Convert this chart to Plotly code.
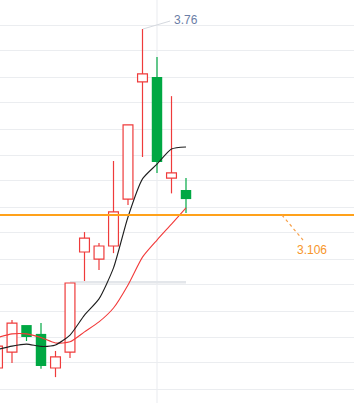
import plotly.graph_objects as go

# ---- data ----
idx = list(range(14))
open_ = [2.568, 2.624, 2.719, 2.688, 2.568, 2.624, 2.976, 2.951, 2.997, 3.162, 3.574, 3.591, 3.236, 3.194]
high = [2.660, 2.737, 2.719, 2.726, 2.628, 2.867, 3.046, 3.008, 3.296, 3.423, 3.760, 3.662, 3.524, 3.236]
low = [2.555, 2.586, 2.663, 2.565, 2.536, 2.603, 2.874, 2.913, 2.972, 3.141, 3.310, 3.254, 3.182, 3.113]
close = [2.645, 2.726, 2.677, 2.575, 2.607, 2.867, 3.025, 2.997, 3.117, 3.423, 3.602, 3.292, 3.254, 3.162]
ma_black = [2.633, 2.645, 2.652, 2.644, 2.649, 2.684, 2.754, 2.811, 2.920, 3.099, 3.233, 3.285, 3.338, 3.345]
ma_red = [2.675, 2.688, 2.688, 2.675, 2.656, 2.660, 2.695, 2.730, 2.779, 2.860, 2.958, 3.018, 3.074, 3.131]
level = 3.106
level_label = "3.106"
top_label = "3.76"
gray_level = 2.870
grid_prices = [3.774, 3.683, 3.591, 3.500, 3.408, 3.317, 3.226, 3.134, 3.043,
               2.951, 2.860, 2.768, 2.677, 2.586, 2.494]

RED = "#ef3b3b"
GREEN = "#00a843"
ORANGE = "#ffa11a"

fig = go.Figure()

# wicks (split around the body so hollow bodies stay clean)
for up_flag, color in ((True, RED), (False, GREEN)):
    wx, wy = [], []
    for i, o, h, l, c in zip(idx, open_, high, low, close):
        if (c >= o) != up_flag:
            continue
        top, bot = max(o, c), min(o, c)
        if h > top:
            wx += [i, i, None]
            wy += [h, top, None]
        if l < bot:
            wx += [i, i, None]
            wy += [bot, l, None]
    fig.add_trace(go.Scatter(x=wx, y=wy, mode="lines", line=dict(color=color, width=1.2),
                             showlegend=False, hoverinfo="skip"))

# bodies
up_i = [i for i in idx if close[i] >= open_[i]]
dn_i = [i for i in idx if close[i] < open_[i]]
fig.add_trace(go.Bar(
    x=up_i, base=[open_[i] for i in up_i], y=[close[i] - open_[i] for i in up_i],
    width=0.68, marker=dict(color="#ffffff", line=dict(color=RED, width=1.2)),
    showlegend=False, hoverinfo="skip"))
fig.add_trace(go.Bar(
    x=dn_i, base=[close[i] for i in dn_i], y=[open_[i] - close[i] for i in dn_i],
    width=0.72, marker=dict(color=GREEN, line=dict(color=GREEN, width=0)),
    showlegend=False, hoverinfo="skip"))

fig.add_trace(go.Scatter(x=idx, y=ma_red, mode="lines",
                         line=dict(color="#f23a3a", width=1.1, shape="spline", smoothing=0.6),
                         showlegend=False, hoverinfo="skip"))
fig.add_trace(go.Scatter(x=idx, y=ma_black, mode="lines",
                         line=dict(color="#1e1e1e", width=1.1, shape="spline", smoothing=0.6),
                         showlegend=False, hoverinfo="skip"))

# vertical grid line
fig.add_shape(type="line", xref="x", yref="paper", x0=11, x1=11, y0=0, y1=1,
              line=dict(color="#e9ebef", width=1), layer="below")
# gray bar
fig.add_shape(type="line", xref="x", yref="y", x0=5, x1=13, y0=gray_level, y1=gray_level,
              line=dict(color="#e3e6ea", width=2.5), layer="below")
# orange level line
fig.add_shape(type="line", xref="paper", yref="y", x0=0, x1=1, y0=level, y1=level,
              line=dict(color=ORANGE, width=2))
# dotted leader for level label
fig.add_shape(type="line", xref="x", yref="y", x0=19.62, x1=21.07, y0=level, y1=3.018,
              line=dict(color="#f7a04a", width=1.2, dash="dot"))
fig.add_annotation(x=21.66, y=2.983, xref="x", yref="y", text=level_label, showarrow=False,
                   font=dict(family="Arial, Liberation Sans, sans-serif", size=12, color="#f7962a"),
                   xanchor="center", yanchor="middle")
# leader for max
fig.add_shape(type="line", xref="x", yref="y", x0=10.03, x1=11.9, y0=max(high), y1=3.788,
              line=dict(color="#d5d9df", width=1))
fig.add_annotation(x=12.03, y=3.792, xref="x", yref="y", text=top_label, showarrow=False,
                   font=dict(family="Arial, Liberation Sans, sans-serif", size=12, color="#6b7ea6"),
                   xanchor="left", yanchor="middle")

fig.update_layout(
    width=354, height=403,
    margin=dict(l=0, r=0, t=0, b=0),
    paper_bgcolor="#ffffff", plot_bgcolor="#ffffff",
    showlegend=False, barmode="overlay",
    xaxis=dict(range=[0.1724, 24.586], showgrid=False, zeroline=False,
               showticklabels=False, fixedrange=True),
    yaxis=dict(range=[2.445, 3.862], tickvals=grid_prices, showgrid=True, gridcolor="#ebedf0",
               gridwidth=1, zeroline=False, showticklabels=False, fixedrange=True),
)

fig.write_html("out.html", config={"displayModeBar": False},
               post_script="document.body.style.margin='0';document.body.style.overflow='hidden';")
